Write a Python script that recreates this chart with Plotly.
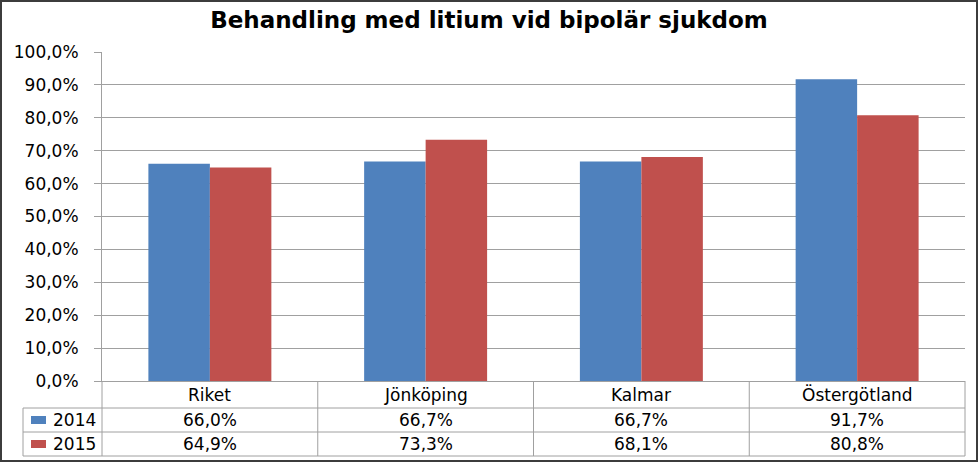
import plotly.graph_objects as go

categories = ["Riket", "Jönköping", "Kalmar", "Östergötland"]
years = ["2014", "2015"]
values_2014 = [66.0, 66.7, 66.7, 91.7]
values_2015 = [64.9, 73.3, 68.1, 80.8]
series_colors = ["#4F81BD", "#C0504D"]
title_text = "Behandling med litium vid bipolär sjukdom"

W, H = 980, 463
L, R, T, B = 102, 965, 52, 381   # plot area in pixels
FONT = "DejaVu Sans"


def px(x):
    return (x - L) / (R - L)


def py(y):
    return (B - y) / (B - T)


def fmt(v):
    return f"{v:.1f}%".replace(".", ",")


fig = go.Figure()
for name, vals, col in zip(years, [values_2014, values_2015], series_colors):
    fig.add_trace(go.Bar(
        x=categories, y=[v / 100 for v in vals], name=name,
        marker=dict(color=col, line=dict(width=0)),
    ))

shapes = []
grid_col = "#A0A0A0"
n = len(categories)
row_tops = [B, 408, 432, 456]
for y in row_tops[1:]:
    shapes.append(dict(type="line", xref="paper", yref="paper",
                       x0=px(23), x1=1, y0=py(y), y1=py(y),
                       line=dict(color=grid_col, width=1)))
for i in range(n + 1):
    shapes.append(dict(type="line", xref="paper", yref="paper",
                       x0=i / n, x1=i / n, y0=0, y1=py(row_tops[-1]),
                       line=dict(color=grid_col, width=1)))
shapes.append(dict(type="line", xref="paper", yref="paper",
                   x0=px(23), x1=px(23), y0=py(row_tops[1]), y1=py(row_tops[-1]),
                   line=dict(color=grid_col, width=1)))
for r, col in enumerate(series_colors):
    yc = (row_tops[r + 1] + row_tops[r + 2]) / 2
    shapes.append(dict(type="rect", xref="paper", yref="paper",
                       x0=px(31), x1=px(46), y0=py(yc - 4), y1=py(yc + 4),
                       fillcolor=col, line=dict(width=0)))
shapes.append(dict(type="rect", xref="paper", yref="paper",
                   x0=px(1), x1=px(977), y0=py(1), y1=py(461),
                   line=dict(color="#3C3C3C", width=2), fillcolor="rgba(0,0,0,0)",
                   layer="below"))

annotations = []
TFS = 17
hy = (row_tops[0] + row_tops[1]) / 2
for i, c in enumerate(categories):
    annotations.append(dict(x=(i + 0.5) / n, y=py(hy), xref="paper", yref="paper",
                            text=c, showarrow=False, xanchor="center", yanchor="middle",
                            font=dict(family=FONT, size=TFS, color="#000000")))
for r, (yr, vals) in enumerate(zip(years, [values_2014, values_2015])):
    yc = (row_tops[r + 1] + row_tops[r + 2]) / 2
    annotations.append(dict(x=px(51), y=py(yc), xref="paper", yref="paper",
                            text=yr, showarrow=False, xanchor="left", yanchor="middle",
                            font=dict(family=FONT, size=TFS, color="#000000")))
    for i, v in enumerate(vals):
        annotations.append(dict(x=(i + 0.5) / n, y=py(yc), xref="paper", yref="paper",
                                text=fmt(v), showarrow=False, xanchor="center",
                                yanchor="middle",
                                font=dict(family=FONT, size=TFS, color="#000000")))

fig.update_layout(
    width=W, height=H,
    margin=dict(l=L, r=W - R, t=T, b=H - B, pad=0),
    paper_bgcolor="white", plot_bgcolor="white",
    separators=", ",
    barmode="group", bargap=0.43, bargroupgap=0,
    showlegend=False,
    title=dict(text=title_text, x=489 / W, xref="container", xanchor="center",
               y=1 - 20 / H, yref="container", yanchor="middle",
               font=dict(family=FONT, size=23, color="#000000", weight="bold")),
    xaxis=dict(showticklabels=False, showgrid=False, showline=True,
               linecolor=grid_col, linewidth=1, ticks="", zeroline=False,
               range=[-0.5, n - 0.5], fixedrange=True),
    yaxis=dict(range=[0, 1], dtick=0.1, tickformat=".1%", showgrid=True,
               gridcolor=grid_col, gridwidth=1, showline=True, linecolor=grid_col,
               linewidth=1, ticks="outside", ticklen=7, tickcolor=grid_col,
               ticklabelstandoff=12, zeroline=False,
               tickfont=dict(family=FONT, size=17, color="#000000"), fixedrange=True),
    shapes=shapes, annotations=annotations,
)

fig.write_html("out.html")
